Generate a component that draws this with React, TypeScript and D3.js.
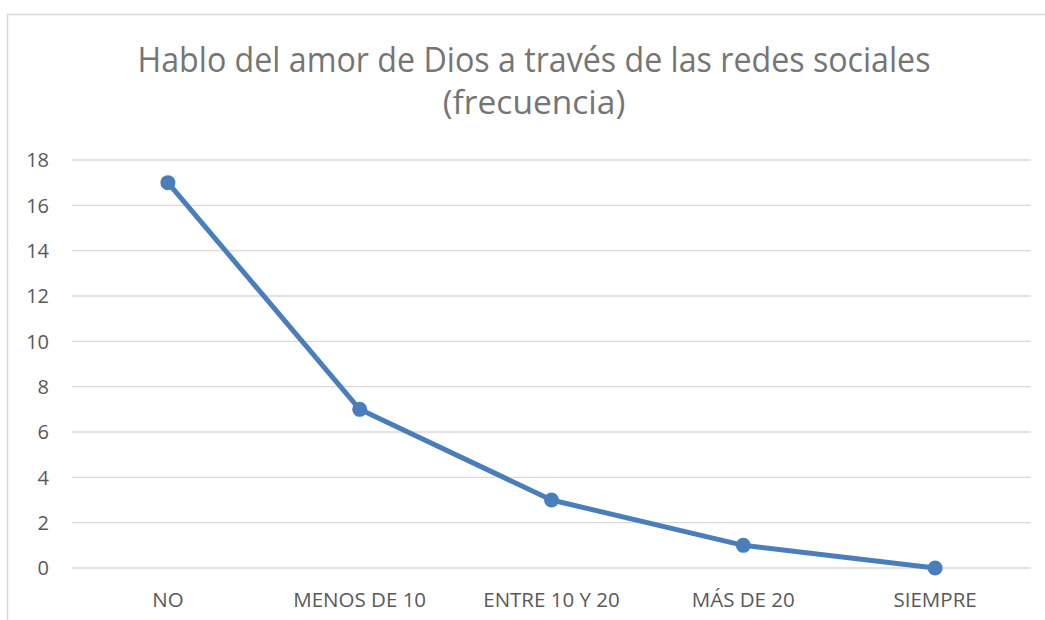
import React from "react";
import * as d3 from "d3";

const categories = ["NO", "MENOS DE 10", "ENTRE 10 Y 20", "MÁS DE 20", "SIEMPRE"];
const values = [17, 7, 3, 1, 0];
const yTicks = [0, 2, 4, 6, 8, 10, 12, 14, 16, 18];
const titleLines = ["Hablo del amor de Dios a través de las redes sociales", "(frecuencia)"];

const W = 1045;
const H = 620;
const FONT = "'Open Sans', 'Liberation Sans', sans-serif";

export default function App() {
  const x = d3.scaleBand<string>().domain(categories).range([72, 1031]);
  const y = d3.scaleLinear().domain([0, 18]).range([568, 160]);
  const cx = (i: number) => (x(categories[i]) as number) + x.bandwidth() / 2;
  const line = d3
    .line<number>()
    .x((_, i) => cx(i))
    .y((d) => y(d));

  return (
    <svg
      width={W}
      height={H}
      style={{ position: "absolute", left: 0, top: 0, background: "#fff" }}
      fontFamily={FONT}
    >
      <rect x={7.5} y={14.5} width={W + 20} height={H + 20} fill="#fff" stroke="#d9d9d9" strokeWidth={1.5} />
      <text x={534} y={72} textAnchor="middle" fontSize={34} fill="#757575" textLength={793} lengthAdjust="spacingAndGlyphs">
        {titleLines[0]}
      </text>
      <text x={534} y={114} textAnchor="middle" fontSize={33.5} fill="#757575">
        {titleLines[1]}
      </text>
      {yTicks.map((t) => (
        <g key={t}>
          <line x1={72} x2={1031} y1={y(t)} y2={y(t)} stroke="#d9d9d9" strokeWidth={1.3} />
          <text x={49} y={y(t)} dy="0.36em" textAnchor="end" fontSize={20} fill="#595959">
            {t}
          </text>
        </g>
      ))}
      {categories.map((c, i) => (
        <text key={c} x={cx(i)} y={607} textAnchor="middle" fontSize={20.5} fill="#595959">
          {c}
        </text>
      ))}
      <path d={line(values) || ""} fill="none" stroke="#4a7ebb" strokeWidth={5} strokeLinejoin="round" strokeLinecap="round" />
      {values.map((v, i) => (
        <circle key={i} cx={cx(i)} cy={y(v)} r={7.5} fill="#4a7ebb" />
      ))}
    </svg>
  );
}
